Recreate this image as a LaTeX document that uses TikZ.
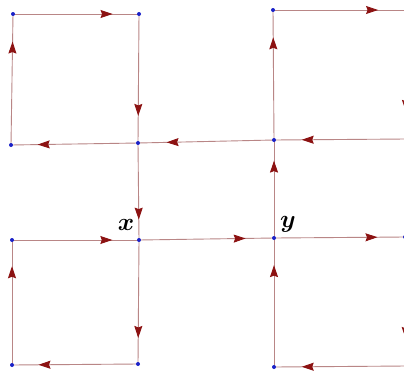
\documentclass[tikz,border=0pt]{standalone}
\usetikzlibrary{arrows.meta,decorations.markings}
\definecolor{edgecol}{HTML}{B98686}
\definecolor{tipcol}{HTML}{8C1212}
\definecolor{dotcol}{HTML}{1A22C8}
\tikzset{
  flow/.style={draw=edgecol, line width=0.9pt, postaction={decorate},
    decoration={markings, mark=at position 0.79 with {\arrow[tipcol]{Stealth[length=12pt,width=8pt,inset=1.5pt]}}}},
  vdot/.style={fill=dotcol},
  lbl/.style={font=\fontsize{25}{29}\selectfont\boldmath, inner sep=0pt}
}
\begin{document}
\begin{tikzpicture}[x=1pt,y=-1pt]
\useasboundingbox (0,0) rectangle (404,370);
\fill[white] (0,0) rectangle (404,370);
\clip (0,0) rectangle (404,370);
% vertices
\coordinate (A) at (13,14);
\coordinate (B) at (139,14);
\coordinate (C) at (138,143);
\coordinate (D) at (11,145);
\coordinate (E) at (273,10);
\coordinate (F) at (406,10);
\coordinate (G) at (406,139);
\coordinate (H) at (274,140);
\coordinate (I) at (12,240);
\coordinate (J) at (139,240);
\coordinate (K) at (274,238);
\coordinate (L) at (405,237);
\coordinate (M) at (12,365);
\coordinate (N) at (138,364);
\coordinate (O) at (274,367);
\coordinate (P) at (406,366);
% top-left cycle
\draw[flow] (A) -- (B);
\draw[flow] (B) -- (C);
\draw[flow] (C) -- (D);
\draw[flow] (D) -- (A);
% top-right cycle
\draw[flow] (E) -- (F);
\draw[flow] (F) -- (G);
\draw[flow] (G) -- (H);
\draw[flow] (H) -- (E);
% middle cycle
\draw[flow] (H) -- (C);
\draw[flow] (C) -- (J);
\draw[flow] (J) -- (K);
\draw[flow] (K) -- (H);
% bottom-left cycle
\draw[flow] (I) -- (J);
\draw[flow] (J) -- (N);
\draw[flow] (N) -- (M);
\draw[flow] (M) -- (I);
% bottom-right cycle
\draw[flow] (K) -- (L);
\draw[flow] (L) -- (P);
\draw[flow] (P) -- (O);
\draw[flow] (O) -- (K);
% dots
\foreach \p in {A,B,C,D,E,F,G,H,I,J,K,L,M,N,O,P}
  \fill[vdot] (\p) circle (2pt);
% labels
\node[lbl] (lx) at (126,225) {$x$};
\node[lbl] (ly) at (288,224) {$y$};
\end{tikzpicture}
\end{document}
